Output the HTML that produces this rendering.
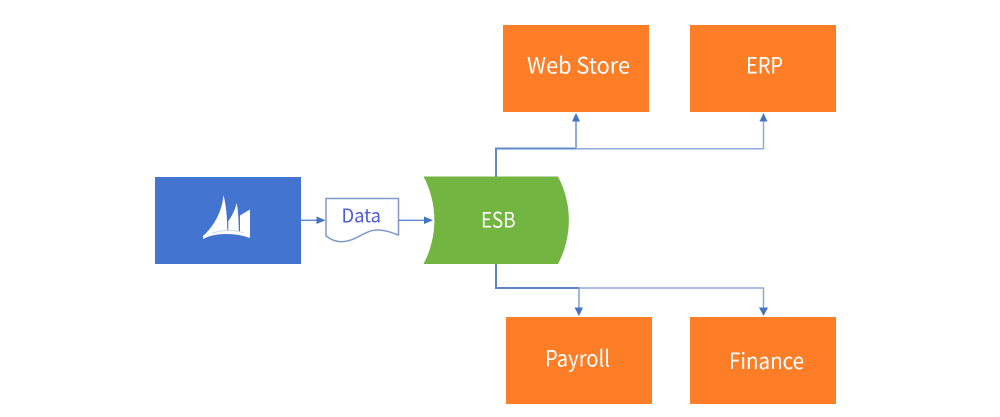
<!DOCTYPE html>
<html><head><meta charset="utf-8"><style>
html,body{margin:0;padding:0;background:#fff}
svg{display:block}
text{font-family:"Noto Sans CJK SC","Liberation Sans",sans-serif}
</style></head><body>
<svg width="1000" height="417" viewBox="0 0 1000 417" xmlns="http://www.w3.org/2000/svg">
<rect width="1000" height="417" fill="#fff"/>
<rect x="155" y="177" width="146" height="87" fill="#4274d0"/>
<g fill="#fff">
<path d="M223.500 195C222 212 214 226 203 236L204 238C211 233 219 232 227.300 232C227.300 218 226 205 223.500 195Z"/>
<path d="M236.700 203C235 210 232 216 228.300 221V232H238.800C238.800 220 238 210 236.700 203Z"/>
<path d="M250 209.500L240 215.500V232C244 233 247 234 250 236.500Z"/>
<path d="M203 236C215 229 235 227 250 235.500V238C235 232.500 215 232.500 203 239Z"/>
</g>
<path d="M212 233.500C222 229.500 234 229.500 244 233" stroke="#c3d3ef" stroke-width="0.800" fill="none"/>
<path d="M301 220.300H318" stroke="#5f87cf" stroke-width="1.400" fill="none"/>
<path d="M316.500 216.500L325.500 220.300L316.500 224Z" fill="#4472c4"/>
<path d="M326 198.500H398.500V235C390 232 385 230 377 230C365 230 355 242 341 241.700C335 241.700 330 239 326 236Z" fill="#fff" stroke="#7f99cd" stroke-width="1.500"/>
<text x="341.500" y="222.500" textLength="39.500" lengthAdjust="spacingAndGlyphs" font-size="19" fill="#4a5bd8">Data</text>
<path d="M398.500 220.300H425" stroke="#5f87cf" stroke-width="1.400" fill="none"/>
<path d="M424 216.500L433 220.300L424 224Z" fill="#4472c4"/>
<path d="M423.500 176.500H558A93.500 93.500 0 0 1 558 264H423.500A93.500 93.500 0 0 0 423.500 176.500Z" fill="#72b541"/>
<text x="481" y="227.300" textLength="34.500" lengthAdjust="spacingAndGlyphs" font-size="21" fill="#fff">ESB</text>
<path d="M496 176.500V148.500H576" stroke="#6288cb" stroke-width="2" fill="none"/>
<path d="M576 148.700H763.500V120" stroke="#8fa9de" stroke-width="1.500" fill="none"/>
<path d="M576 148.500V120" stroke="#7f9ddb" stroke-width="1.700" fill="none"/>
<path d="M572 121.500L576 113L580 121.500Z" fill="#4472c4"/>
<path d="M759.500 121.500L763.500 113L767.500 121.500Z" fill="#4472c4"/>
<path d="M496 264V288H579" stroke="#5f84c4" stroke-width="2" fill="none"/>
<path d="M579 288H763.500V309" stroke="#8fa9de" stroke-width="1.500" fill="none"/>
<path d="M579 288V309" stroke="#7f9ddb" stroke-width="1.500" fill="none"/>
<path d="M574.500 307.500H583L579 316Z" fill="#4472c4"/>
<path d="M759 307.500H768L763.500 316Z" fill="#4472c4"/>
<rect x="503" y="25" width="146" height="87" fill="#fe7e28"/>
<rect x="690" y="25" width="146" height="87" fill="#fe7e28"/>
<rect x="506" y="317" width="146" height="87" fill="#fe7e28"/>
<rect x="690" y="317" width="146" height="87" fill="#fe7e28"/>
<g fill="#fff" font-size="22.500">
<text x="527" y="73.500" textLength="103" lengthAdjust="spacingAndGlyphs">Web Store</text>
<text x="746" y="73.500" textLength="37" lengthAdjust="spacingAndGlyphs">ERP</text>
<text x="545" y="366.700" textLength="65" lengthAdjust="spacingAndGlyphs">Payroll</text>
<text x="729" y="369" textLength="75" lengthAdjust="spacingAndGlyphs">Finance</text>
</g>
</svg>
</body></html>
